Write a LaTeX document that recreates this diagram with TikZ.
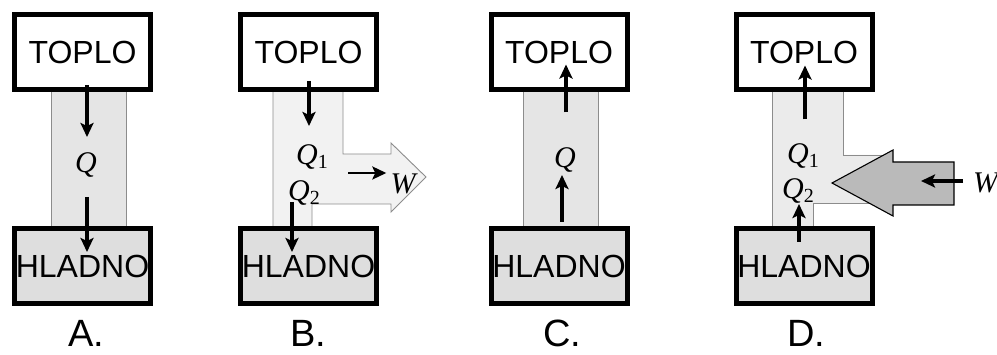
\documentclass[tikz,border=0pt]{standalone}
\usepackage{fontspec}
\newfontfamily\boxfont{Liberation Sans}
\newfontfamily\symfont{Liberation Serif}
\usetikzlibrary{calc, arrows.meta}
\newcommand{\heatidx}[1]{\raisebox{-0.3ex}{\upshape\fontsize{20}{20}\selectfont #1}}

\begin{document}
\begin{tikzpicture}[x=1pt, y=-1pt,
        box/.style={draw, line width=5pt, minimum width=136pt, minimum height=75pt, inner sep=0pt, font=\boxfont\fontsize{32}{32}\selectfont},
        hotbox/.style={box, fill=white},
        coldbox/.style={box, fill=black!13},
        band/.style={draw=black!45, line width=0.9pt},
        flow/.style={line width=3.4pt, -{Stealth[length=14pt, width=13pt, inset=3pt]}},
        qlab/.style={inner sep=0pt, font=\symfont\itshape\fontsize{30}{30}\selectfont},
        panel/.style={anchor=base, font=\boxfont\fontsize{38}{38}\selectfont}]
    \useasboundingbox (0,0) rectangle (997,355);

    % bands between the two reservoirs
    \filldraw[band, fill=black!10] (51,88) rectangle (126,231);
    \filldraw[band, fill=black!5] (273,88) -- (343,88) -- (343,154) -- (391,154) -- (391,143)
        -- (426,177) -- (391,212) -- (391,204) -- (312,204) -- (312,231) -- (273,231) -- cycle;
    \filldraw[band, fill=black!10] (523,88) rectangle (598,231);
    \filldraw[band, fill=black!8] (772,88) -- (843,88) -- (843,155) -- (892,155) -- (892,203)
        -- (813,203) -- (813,231) -- (772,231) -- cycle;
    \filldraw[line width=1.1pt, fill=black!27] (954,162) -- (893,162) -- (893,150) -- (832,183)
        -- (893,216) -- (893,205) -- (954,205) -- cycle;

    % A
    \node[hotbox] (hotA) at (82.5,52) {TOPLO};
    \node[coldbox] (coldA) at (82.5,266.5) {HLADNO};
    \node[qlab] (qA) at (86,165) {Q};
    \draw[flow] ($(hotA.south)+(4.5,-7)$) -- ++(0,52);
    \draw[flow] ($(coldA.north)+(4.5,-29.5)$) -- ++(0,55);
    \node[panel] (labA) at (86,347) {A.};

    % B
    \node[hotbox] (hotB) at (308.5,52) {TOPLO};
    \node[coldbox] (coldB) at (308.5,266.5) {HLADNO};
    \node[qlab] (q1B) at (312,157) {Q\heatidx{1}};
    \node[qlab] (q2B) at (304,193) {Q\heatidx{2}};
    \node[qlab, inner sep=4pt] (wB) at (403,184) {W};
    \coordinate (wtailB) at (348,173);
    \draw[flow] ($(hotB.south)+(0.5,-11)$) -- ++(0,45);
    \draw[flow] ($(coldB.north)+(-16.5,-24.5)$) -- ++(0,50);
    \draw[flow, line width=2.6pt] (wtailB) -- (wtailB -| wB.west);
    \node[panel] (labB) at (308,347) {B.};

    % C
    \node[hotbox] (hotC) at (559,52) {TOPLO};
    \node[coldbox] (coldC) at (559,266.5) {HLADNO};
    \node[qlab] (qC) at (565,160) {Q};
    \draw[flow] ($(hotC.south)+(7,20.5)$) -- ++(0,-48);
    \draw[flow] ($(coldC.north)+(3,-4.5)$) -- ++(0,-47);
    \node[panel] (labC) at (562,347) {C.};

    % D
    \node[hotbox] (hotD) at (804,52) {TOPLO};
    \node[coldbox] (coldD) at (804,266.5) {HLADNO};
    \node[qlab] (q1D) at (803,156) {Q\heatidx{1}};
    \node[qlab] (q2D) at (798,191) {Q\heatidx{2}};
    \node[qlab, anchor=west] (wD) at (973,183) {W};
    \coordinate (wtipD) at (921,181);
    \draw[flow] ($(hotD.south)+(1,27.5)$) -- ++(0,-54);
    \draw[flow] ($(coldD.north)+(-5,15.5)$) -- ++(0,-38);
    \draw[flow] ($(wD.west |- wtipD)+(-10,0)$) -- (wtipD);
    \node[panel] (labD) at (806,347) {D.};
\end{tikzpicture}
\end{document}
